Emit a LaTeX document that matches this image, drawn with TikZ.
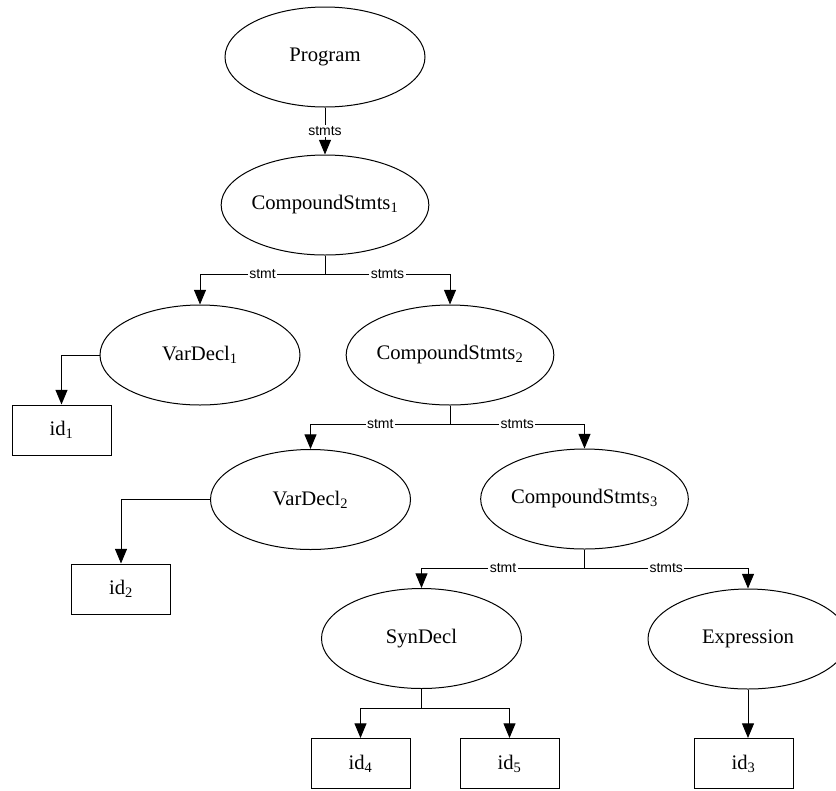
\documentclass[tikz,border=0pt]{standalone}
\usepackage{fontspec}
\setmainfont{Liberation Serif}
\newfontfamily\labelfont{Liberation Sans}
\usetikzlibrary{arrows.meta,shapes.geometric}
\begin{document}
\begin{tikzpicture}[x=0.75pt,y=-0.75pt,
  every node/.style={font=\fontsize{15.5}{18}\selectfont},
  nt/.style={draw, ellipse, minimum width=150pt, minimum height=75pt, inner sep=0pt, line width=0.75pt},
  leaf/.style={draw, rectangle, minimum width=74.25pt, minimum height=37.5pt, inner sep=0pt, line width=0.75pt},
  wire/.style={line width=0.75pt},
  edge/.style={line width=0.75pt, -{Triangle[length=11pt,width=9pt]}},
  tag/.style={fill=white, inner sep=1pt, font=\labelfont\fontsize{10.5}{12}\selectfont}]
\clip (0,0) rectangle (836,790);

% tree nodes
\node[nt] (prog) at (325,57) {Program};
\node[nt] (cs1) at (325,205) {CompoundStmts\textsubscript{1}};
\node[nt] (vd1) at (200,355) {VarDecl\textsubscript{1}};
\node[nt] (cs2) at (450,355) {CompoundStmts\textsubscript{2}};
\node[leaf] (id1) at (61.5,430) {id\textsubscript{1}};
\node[nt] (vd2) at (310.5,499.5) {VarDecl\textsubscript{2}};
\node[nt] (cs3) at (584.5,499) {CompoundStmts\textsubscript{3}};
\node[leaf] (id2) at (121,589) {id\textsubscript{2}};
\node[nt] (syn) at (421.5,638.5) {SynDecl};
\node[nt] (expr) at (748,639) {Expression};
\node[leaf] (id4) at (360.5,763.5) {id\textsubscript{4}};
\node[leaf] (id5) at (509.5,763.5) {id\textsubscript{5}};
\node[leaf] (id3) at (743.5,763.5) {id\textsubscript{3}};

% branch points
\coordinate (b1) at (325,274);
\coordinate (b2) at (450,424);
\coordinate (b3) at (584.5,568);
\coordinate (b4) at (421.5,708);

% connectors
\draw[edge] (prog) -- node[tag]{stmts} (cs1);

\draw[wire] (cs1.south) -- (b1);
\draw[edge] (b1) -- node[tag]{stmt} (b1 -| vd1) -- (vd1);
\draw[edge] (b1) -- node[tag]{stmts} (b1 -| cs2) -- (cs2);
\draw[edge] (vd1.west) -| (id1.north);

\draw[wire] (cs2.south) -- (b2);
\draw[edge] (b2) -- node[tag]{stmt} (b2 -| vd2) -- (vd2);
\draw[edge] (b2) -- node[tag]{stmts} (b2 -| cs3) -- (cs3);
\draw[edge] (vd2.west) -| (id2.north);

\draw[wire] (cs3.south) -- (b3);
\draw[edge] (b3) -- node[tag]{stmt} (b3 -| syn) -- (syn);
\draw[edge] (b3) -- node[tag]{stmts} (b3 -| expr) -- (expr);

\draw[wire] (syn.south) -- (b4);
\draw[edge] (b4) -| (id4.north);
\draw[edge] (b4) -| (id5.north);
\draw[edge] (expr.south) -- (expr.south |- id3.north);
\end{tikzpicture}
\end{document}
